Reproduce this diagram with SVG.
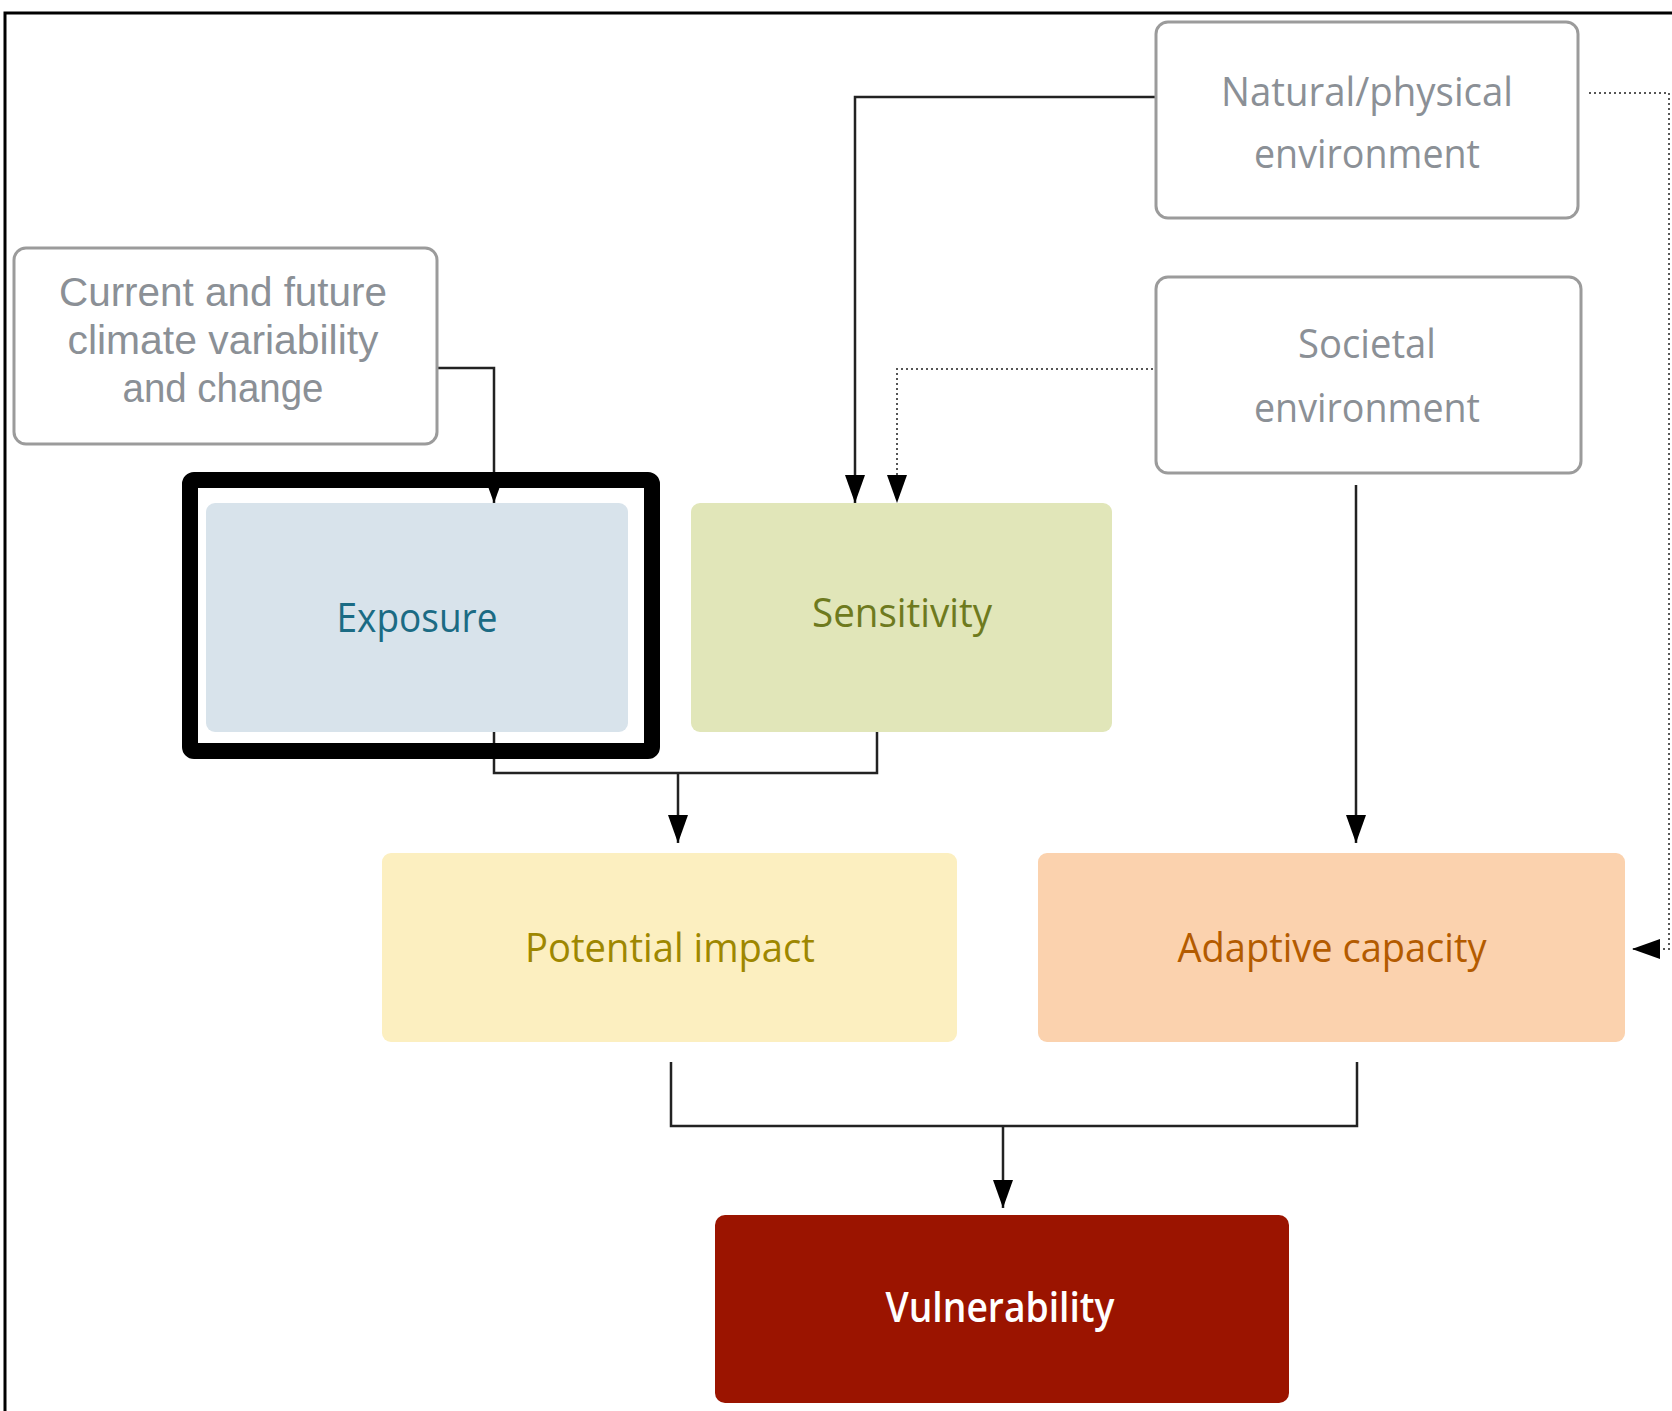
<svg xmlns="http://www.w3.org/2000/svg" width="1672" height="1411" viewBox="0 0 1672 1411">
<defs>
<marker id="ah" viewBox="0 0 28 20" refX="28" refY="10" markerWidth="28" markerHeight="20" markerUnits="userSpaceOnUse" orient="auto">
<path d="M0,0 L28,10 L0,20 Z" fill="#000"/>
</marker>
<marker id="ahs" viewBox="0 0 22 16" refX="22" refY="8" markerWidth="22" markerHeight="16" markerUnits="userSpaceOnUse" orient="auto">
<path d="M0,0 L22,8 L0,16 Z" fill="#000"/>
</marker>
</defs>
<style>
text{font-family:"Open Sans","Noto Sans","Liberation Sans",sans-serif;font-size:41px;text-anchor:middle}
.ctx rect{fill:#fff;stroke:#9b9b9b;stroke-width:3}
.ctx text{fill:#8b9096}
.tight{font-family:"Liberation Sans","Open Sans",sans-serif;font-size:40px}
.ln{fill:none;stroke:#222;stroke-width:2.5}
.dot{fill:none;stroke:#555;stroke-width:2;stroke-dasharray:2 3}
</style>
<rect width="1672" height="1411" fill="#fff"/>
<path d="M5,1411 L5,13 L1672,13" fill="none" stroke="#000" stroke-width="3"/>

<g id="connectors">
<path class="ln" d="M437,368 L494,368 L494,503" marker-end="url(#ahs)"/>
<path class="ln" d="M1156,97 L855,97 L855,503" marker-end="url(#ah)"/>
<path class="dot" d="M1153,369 L897,369 L897,503" marker-end="url(#ah)"/>
<path class="ln" d="M494,732 L494,773 L877,773 L877,732"/>
<path class="ln" d="M678,773 L678,843" marker-end="url(#ah)"/>
<path class="ln" d="M1356,485 L1356,843" marker-end="url(#ah)"/>
<path class="ln" d="M671,1062 L671,1126 L1357,1126 L1357,1062"/>
<path class="ln" d="M1003,1126 L1003,1208" marker-end="url(#ah)"/>
<path class="dot" d="M1589,93 L1669,93 L1669,949 L1632,949" marker-end="url(#ah)"/>
</g>

<g id="node-climate" class="ctx">
<rect x="14" y="248" width="423" height="196" rx="12"/>
<text class="tight" x="223" y="306" textLength="328" lengthAdjust="spacingAndGlyphs">Current and future</text>
<text class="tight" x="223" y="354" textLength="311" lengthAdjust="spacingAndGlyphs">climate variability</text>
<text class="tight" x="223" y="402" textLength="201" lengthAdjust="spacingAndGlyphs">and change</text>
</g>

<g id="node-natural" class="ctx">
<rect x="1156" y="22" width="422" height="196" rx="12"/>
<text x="1367" y="106" textLength="292" lengthAdjust="spacingAndGlyphs">Natural/physical</text>
<text x="1367" y="168" textLength="226" lengthAdjust="spacingAndGlyphs">environment</text>
</g>

<g id="node-societal" class="ctx">
<rect x="1156" y="277" width="425" height="196" rx="12"/>
<text x="1367" y="358" textLength="138" lengthAdjust="spacingAndGlyphs">Societal</text>
<text x="1367" y="422" textLength="226" lengthAdjust="spacingAndGlyphs">environment</text>
</g>

<g id="node-exposure">
<rect x="206" y="503" width="422" height="229" rx="9" fill="#d8e3eb"/>
<text x="417" y="632" fill="#1b6b84" textLength="161" lengthAdjust="spacingAndGlyphs">Exposure</text>
</g>

<g id="highlight-frame">
<rect x="190" y="480" width="462" height="271" rx="4" fill="none" stroke="#000" stroke-width="16"/>
</g>

<g id="node-sensitivity">
<rect x="691" y="503" width="421" height="229" rx="9" fill="#e1e6b9"/>
<text x="902" y="627" fill="#6e7a1e" textLength="180" lengthAdjust="spacingAndGlyphs">Sensitivity</text>
</g>

<g id="node-potential">
<rect x="382" y="853" width="575" height="189" rx="9" fill="#fcefc0"/>
<text x="670" y="962" fill="#9e8700" textLength="290" lengthAdjust="spacingAndGlyphs">Potential impact</text>
</g>

<g id="node-adaptive">
<rect x="1038" y="853" width="587" height="189" rx="9" fill="#fbd2ae"/>
<text x="1332" y="962" fill="#b35b00" textLength="309" lengthAdjust="spacingAndGlyphs">Adaptive capacity</text>
</g>

<g id="node-vulnerability">
<rect x="715" y="1215" width="574" height="188" rx="10" fill="#9b1400"/>
<text x="1000" y="1322" fill="#fff" font-weight="600" textLength="229" lengthAdjust="spacingAndGlyphs">Vulnerability</text>
</g>
</svg>
